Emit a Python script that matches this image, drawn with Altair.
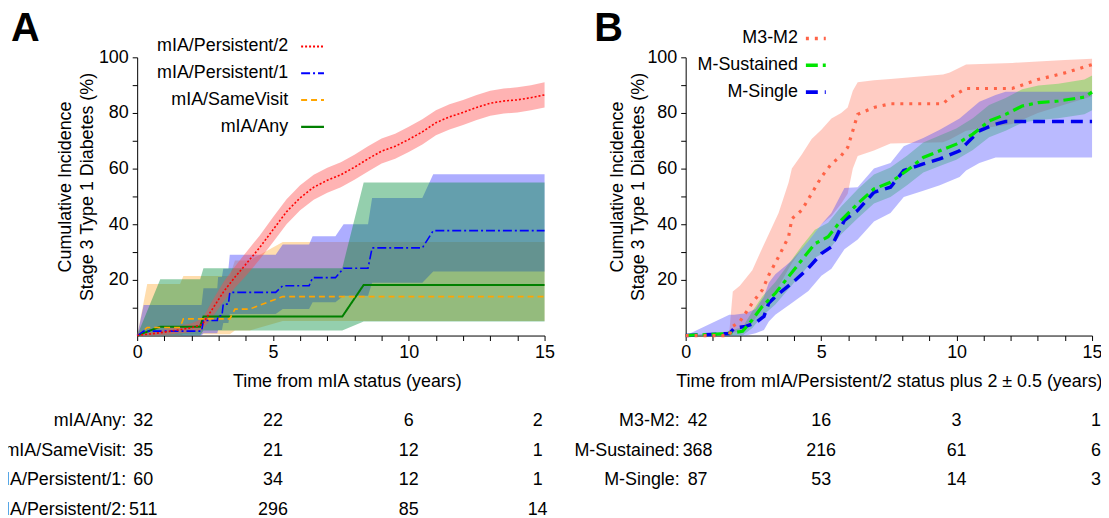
import altair as alt
import pandas as pd

FONT = "Liberation Sans"

# ---------------- Panel A data ----------------
A_NAMES = ["mIA/Persistent/2", "mIA/Persistent/1", "mIA/SameVisit", "mIA/Any"]
A_LINE_COLORS = ["#ff0000", "#0000ff", "#ffa500", "#008000"]
A_FILL_COLORS = ["#ff4a4a", "#3232ff", "#ffaa33", "#008c3c"]
A_DASHES = [[2, 2], [9, 3, 2, 3], [6, 4], [1, 0]]
A_WIDTHS = [1.6, 1.6, 1.6, 2.0]

p2_t = [0, 0.5, 1, 1.5, 2, 2.4, 2.8, 3.2, 3.6, 4.0, 4.5, 5.0, 5.5, 6.0, 6.5, 7.0, 7.5, 8.0,
        8.5, 9.0, 9.5, 10.0, 10.5, 11.0, 11.5, 12.0, 12.5, 13.0, 13.5, 14.0, 14.5, 15.0]
p2_est = [0, 0.6, 1.2, 2, 2.8, 4, 10, 16, 21, 25.6, 31.5, 38, 44.5, 49.5, 53.3, 55.8, 57.8, 60.5,
          63.5, 66.3, 68, 70.5, 73.2, 76.5, 78.6, 80.2, 82, 83.5, 84.3, 84.7, 85.5, 86.5]
p2_lo = [0, 0, 0.2, 0.7, 1.2, 2, 7, 12.5, 17.2, 21.4, 27.2, 33.5, 40, 45, 48.8, 51.3, 53.3, 56,
         59, 61.8, 63.5, 66, 68.7, 72, 74.1, 75.7, 77.5, 79, 79.8, 80.2, 81, 82]
p2_hi = [0, 1.2, 2.2, 3.3, 4.4, 6, 13, 19.5, 24.8, 29.8, 35.8, 42.5, 49, 54, 57.8, 60.3, 62.3, 65,
         68, 70.8, 72.5, 75, 77.7, 81, 83.1, 84.7, 86.5, 88, 88.8, 89.2, 90, 91]

p1_t = [0, 0.24, 2.37, 2.44, 2.95, 2.98, 3.12, 3.17, 3.36, 3.41, 5.1, 5.36, 6.33, 6.46, 7.3, 7.6,
        8.5, 8.65, 10.5, 10.9, 15]
p1_est = [0, 1.6, 1.6, 5.4, 5.4, 7.1, 7.1, 11.3, 11.3, 15.5, 15.5, 17.9, 17.9, 20.8, 20.8, 24.2,
          24.2, 31.5, 31.5, 37.7, 37.7]
p1_lo = [0, 0, 0, 0.8, 0.8, 2, 2, 4.5, 4.5, 7.7, 7.7, 9.5, 9.5, 12, 12, 14.3, 14.3, 19, 19, 23, 23]
p1_hi = [0, 11, 11, 17, 17, 21, 21, 24, 24, 29, 29, 32.7, 32.7, 35.7, 35.7, 40, 40, 49.4, 49.4, 58, 58]

sv_t = [0, 0.37, 1.58, 1.7, 3.41, 3.6, 4.14, 5.36, 15]
sv_est = [0, 2.9, 2.9, 6, 6, 9.5, 9.5, 14, 14]
sv_lo = [0, 0, 0, 0.5, 0.5, 1.8, 1.8, 5.2, 5.2]
sv_hi = [0, 18.5, 18.5, 21.4, 21.4, 27, 27, 33.6, 33.6]

any_t = [0, 0.85, 2.32, 2.44, 7.55, 8.34, 15]
any_est = [0, 3.2, 3.2, 6.8, 6.8, 18.2, 18.2]
any_lo = [0, 0, 0, 1.8, 1.8, 5, 5]
any_hi = [0, 20.2, 20.2, 24.2, 24.2, 55, 55]

A_ROWS = ["mIA/Any:", "mIA/SameVisit:", "mIA/Persistent/1:", "mIA/Persistent/2:"]
A_TIMES = [0, 5, 10, 15]
A_RISK = [[32, 22, 6, 2], [35, 21, 12, 1], [60, 34, 12, 1], [511, 296, 85, 14]]

# ---------------- Panel B data ----------------
B_NAMES = ["M3-M2", "M-Sustained", "M-Single"]
B_LINE_COLORS = ["#ff6347", "#00e600", "#0000f0"]
B_FILL_COLORS = ["#ff7a60", "#22dd22", "#3a3aff"]
B_DASHES = [[3, 6], [12, 5, 4, 5], [12, 7]]
B_WIDTHS = [3.2, 3.2, 3.5]

m32_t = [0, 1.6, 1.74, 2.0, 2.46, 2.83, 3.07, 3.43, 3.8, 3.92, 4.28, 4.65, 5.01, 5.38, 5.74, 5.98,
         6.17, 6.35, 6.95, 7.56, 9.5, 9.75, 10.35, 12.05, 13.0, 14.0, 15.0]
m32_est = [0, 0, 3.3, 5, 11.7, 16.4, 21.8, 28.3, 35.5, 42, 45, 51, 57, 61.7, 64.6, 67.6, 73.6, 79.5,
           82, 83.3, 83.3, 85.5, 88.8, 88.8, 92, 94.4, 97.4]
m32_lo = [0, 0, 1, 1.5, 4.5, 10, 13, 17.6, 24, 26, 31, 35.5, 40, 43, 47.4, 51, 60, 64.5, 66.5, 69,
          69.5, 70.5, 73.6, 76, 80, 83, 86]
m32_hi = [0, 0, 15.8, 17.9, 23.5, 31.5, 36.5, 44, 55, 60, 65, 70.6, 74, 78, 80, 82, 88, 91, 91.8,
          92.2, 93.8, 94.5, 97.4, 98, 98.5, 99, 99.5]

ms_t = [0, 1.49, 2.1, 2.46, 2.83, 3.31, 3.8, 4.28, 4.77, 5.26, 5.74, 6.35, 6.95, 7.56, 8.17, 8.77,
        9.38, 9.99, 10.6, 11.2, 11.81, 12.42, 13.02, 13.75, 14.72, 15]
ms_est = [0, 0.7, 1.5, 5.7, 10.5, 15.2, 21.2, 27.1, 33, 35.5, 41.4, 47.4, 52.7, 55.1, 59.3, 64,
          66.4, 68.8, 72.4, 77.1, 79.5, 82.5, 83.7, 84.3, 85.7, 87.5]
ms_lo = [0, 0, 0, 2.7, 7, 11.2, 16.7, 22.1, 28, 30.5, 36.4, 42.2, 47.5, 49.8, 54, 58.6, 60.9, 63.2,
         66.7, 71.3, 73.6, 76.5, 77.5, 78.1, 79.5, 81]
ms_hi = [0, 1.4, 3, 8.7, 14, 19.2, 25.7, 32.1, 38, 40.5, 46.4, 52.6, 57.9, 60.4, 64.6, 69.4, 71.9,
         74.4, 78.1, 82.9, 85.4, 88.5, 89.9, 90.5, 92, 93.5]

sg_t = [0, 1.61, 1.8, 2.22, 2.58, 2.89, 3.07, 3.31, 3.92, 4.53, 5.01, 5.38, 5.86, 6.35, 6.95, 7.56,
        8.05, 8.77, 9.38, 10.11, 10.35, 10.84, 11.44, 11.81, 15]
sg_est = [0, 0.7, 2.7, 3.3, 4.5, 6.9, 11.7, 14, 18.8, 24.2, 29.5, 31.9, 41.4, 45, 51.5, 53.3, 59.3,
          61.7, 63.5, 66.4, 68.8, 73.6, 76, 76.9, 76.9]
sg_lo = [0, 0, 0, 0, 0.8, 2, 5, 7.5, 11.7, 16, 21.5, 24, 31, 34.5, 41, 44, 49.8, 52, 54, 57, 59.3,
         62, 64, 64, 64]
sg_hi = [0, 7.5, 7.5, 8, 9.5, 14, 19, 22, 27, 34, 40, 44, 53, 53.3, 60, 62, 68, 71, 74, 78, 80, 84,
         86.5, 87.6, 87.6]

B_ROWS = ["M3-M2:", "M-Sustained:", "M-Single:"]
B_TIMES = [0, 5, 10, 15]
B_RISK = [[42, 16, 3, 1], [368, 216, 61, 6], [87, 53, 14, 3]]

ROW_STEP = 29.6
ROW_TOP = 366.5


def series_frame(name, t, est, lo, hi):
    return pd.DataFrame({"series": name, "t": t, "est": est, "lo": lo, "hi": hi})


def build_panel(df, names, line_colors, fill_colors, dashes, widths, fill_opacity,
                band_order, line_order, x_title, x_title_x, width, rows, times, risk,
                col_dx, label_dx, leg_text_x, leg_x1, leg_x2, leg_y_range,
                letter, letter_x, title_x):
    xscale = alt.Scale(domain=[0, 15], nice=False, zero=False)
    yscale = alt.Scale(domain=[0, 100], nice=False)
    xaxis = alt.Axis(values=list(range(16)), labelExpr="datum.value % 5 == 0 ? datum.label : ''",
                     title=x_title, tickSize=5, labelPadding=3, titlePadding=11,
                     titleX=x_title_x, titleAlign="center",
                     labelFlush=False, labelOverlap=False, grid=False)
    yaxis = alt.Axis(values=list(range(10, 101, 10)),
                     labelExpr="datum.value % 20 == 0 ? datum.label : ''",
                     title=["Cumulative Incidence", "Stage 3 Type 1 Diabetes (%)"],
                     tickSize=5, labelPadding=4, labelFlush=False, labelOverlap=False,
                     grid=False, titleAngle=270, titleX=title_x, titleY=130,
                     titleAlign="center", titleBaseline="alphabetic", titleLineHeight=22)
    x_enc = alt.X("t:Q", scale=xscale, axis=xaxis)
    fill_enc = alt.Fill("series:N", scale=alt.Scale(domain=names, range=fill_colors), legend=None)
    stroke_enc = alt.Stroke("series:N", scale=alt.Scale(domain=names, range=line_colors), legend=None)
    dash_enc = alt.StrokeDash("series:N", scale=alt.Scale(domain=names, range=dashes), legend=None)

    base = alt.Chart(df)
    areas = [
        base.transform_filter(alt.datum.series == n)
        .mark_area(fillOpacity=fill_opacity[names.index(n)])
        .encode(x=x_enc, y=alt.Y("lo:Q", scale=yscale, axis=yaxis), y2="hi:Q", fill=fill_enc)
        for n in band_order
    ]
    lines = [
        base.transform_filter(alt.datum.series == n)
        .mark_line(strokeWidth=widths[names.index(n)])
        .encode(x=x_enc, y=alt.Y("est:Q", scale=yscale, axis=yaxis), stroke=stroke_enc,
                strokeDash=dash_enc)
        for n in line_order
    ]
    main = alt.layer(*areas, *lines)

    # legend drawn inside the plot: label text, then line sample on the right
    leg_df = pd.DataFrame({"series": names})
    leg_y = alt.Y("series:N", scale=alt.Scale(type="point", domain=names, range=leg_y_range,
                                              padding=0), axis=None)
    leg_text = alt.Chart(leg_df).mark_text(align="right", baseline="middle", fontSize=18,
                                           font=FONT, color="black").encode(
        x=alt.value(leg_text_x), y=leg_y, text="series:N")
    leg_rules = [
        alt.Chart(leg_df).transform_filter(alt.datum.series == n)
        .mark_rule(strokeWidth=widths[names.index(n)] + 0.4)
        .encode(x=alt.value(leg_x1), x2=alt.value(leg_x2), y=leg_y, stroke=stroke_enc,
                strokeDash=dash_enc)
        for n in names
    ]

    # number-at-risk table under the axis
    recs = []
    for r, vals in zip(rows, risk):
        for tm, v in zip(times, vals):
            recs.append({"row": r, "t": tm, "n": v})
    tbl_df = pd.DataFrame(recs)
    n_rows = len(rows)
    tbl_y = alt.Y("row:N", scale=alt.Scale(type="point", domain=rows,
                                           range=[ROW_TOP, ROW_TOP + ROW_STEP * (n_rows - 1)],
                                           padding=0),
                  axis=None)
    tbl_x = alt.X("t:Q", scale=xscale, axis=xaxis)
    tbl_labels = alt.Chart(pd.DataFrame({"row": rows, "t": [0] * n_rows})).mark_text(
        align="right", baseline="middle", fontSize=18, font=FONT, color="black", dx=label_dx
    ).encode(x=tbl_x, y=tbl_y, text="row:N")
    tbl_nums = [
        alt.Chart(tbl_df).transform_filter(alt.datum.t == tm).mark_text(
            align="center", baseline="middle", fontSize=18, font=FONT, color="black", dx=dx
        ).encode(x=tbl_x, y=tbl_y, text="n:Q")
        for tm, dx in zip(times, col_dx)
    ]

    letter_layer = alt.Chart(pd.DataFrame({"l": [letter]})).mark_text(
        align="left", baseline="alphabetic", fontSize=40, fontWeight="bold", font=FONT,
        color="black").encode(x=alt.value(letter_x), y=alt.value(-16), text="l:N")

    return alt.layer(main, leg_text, *leg_rules, tbl_labels, *tbl_nums, letter_layer).resolve_scale(
        y="independent").properties(width=width, height=280)


dfA = pd.concat([
    series_frame("mIA/Persistent/2", p2_t, p2_est, p2_lo, p2_hi),
    series_frame("mIA/Persistent/1", p1_t, p1_est, p1_lo, p1_hi),
    series_frame("mIA/SameVisit", sv_t, sv_est, sv_lo, sv_hi),
    series_frame("mIA/Any", any_t, any_est, any_lo, any_hi),
], ignore_index=True)

dfB = pd.concat([
    series_frame("M3-M2", m32_t, m32_est, m32_lo, m32_hi),
    series_frame("M-Sustained", ms_t, ms_est, ms_lo, ms_hi),
    series_frame("M-Single", sg_t, sg_est, sg_lo, sg_hi),
], ignore_index=True)

panelA = build_panel(
    dfA, A_NAMES, A_LINE_COLORS, A_FILL_COLORS, A_DASHES, A_WIDTHS, [0.42, 0.4, 0.4, 0.42],
    band_order=["mIA/SameVisit", "mIA/Persistent/1", "mIA/Any", "mIA/Persistent/2"],
    line_order=["mIA/Any", "mIA/SameVisit", "mIA/Persistent/1", "mIA/Persistent/2"],
    x_title="Time from mIA status (years)", x_title_x=211, width=410,
    rows=A_ROWS, times=A_TIMES, risk=A_RISK,
    col_dx=[6, 0, 0, -7], label_dx=-11, leg_text_x=152, leg_x1=165, leg_x2=188,
    leg_y_range=[-11, 70], letter="A", letter_x=-127, title_x=-67)

panelB = build_panel(
    dfB, B_NAMES, B_LINE_COLORS, B_FILL_COLORS, B_DASHES, B_WIDTHS, [0.38, 0.35, 0.35],
    band_order=["M3-M2", "M-Sustained", "M-Single"],
    line_order=["M-Single", "M-Sustained", "M3-M2"],
    x_title="Time from mIA/Persistent/2 status plus 2 \u00b1 0.5 (years)", x_title_x=204.5,
    width=409, rows=B_ROWS, times=B_TIMES, risk=B_RISK,
    col_dx=[12, 0, 0, 4], label_dx=-6, leg_text_x=113, leg_x1=121, leg_x2=141,
    leg_y_range=[-19, 35], letter="B", letter_x=-92, title_x=-64)

chart = alt.hconcat(panelA, panelB, spacing=142, bounds="flush").resolve_scale(
    fill="independent", stroke="independent", strokeDash="independent"
).properties(
    padding={"left": -19, "top": 0, "right": -2, "bottom": -3}
).configure(font=FONT).configure_view(stroke=None).configure_axis(
    labelFont=FONT, titleFont=FONT, labelFontSize=18, titleFontSize=18,
    titleFontWeight="normal", labelColor="black", titleColor="black",
    domainColor="black", tickColor="black", domainWidth=1, tickWidth=1
)

chart.save("out.html", embed_options={"renderer": "svg", "actions": False})
